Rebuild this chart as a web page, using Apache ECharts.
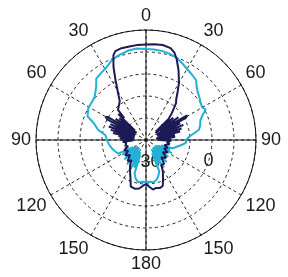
<!DOCTYPE html>
<html>
<head>
<meta charset="utf-8">
<script src="https://cdn.jsdelivr.net/npm/echarts@6/dist/echarts.min.js"></script>
<style>
  html, body { margin: 0; padding: 0; background: #fff; }
  #chart { width: 288px; height: 277px; }
</style>
</head>
<body>
<div id="chart"></div>
<script>
// angles in degrees, clockwise from top; values in dB
const navyAngles = [0, 5, 10, 15, 18, 21, 25, 30, 34, 37, 39, 41, 44, 47, 49, 51, 53, 55, 57, 59, 60, 61, 62, 64, 66, 68, 70, 72, 74, 76, 78, 80, 82, 84, 86, 88, 90, 92, 96, 100, 105, 110, 115, 120, 126, 132, 138, 143, 148, 152, 156, 160, 164, 168, 172, 176, 180,
  184, 188, 193, 198, 203, 208, 212, 216, 221, 227, 233, 239, 245, 250, 256, 262, 266, 268, 270, 272, 274, 276, 278, 280, 282, 284, 286, 288, 290, 292, 294, 296, 298, 299, 300, 301, 303, 305, 307, 309, 311, 313, 315, 317, 322, 326, 329, 333, 336, 339, 341, 345, 350, 355, 360];
const navyValues = [20.1, 20.5, 20.8, 19.8, 17.7, 13.6, 7.5, 0.0, -6.8, -10.9, -12.3, -15.7, -19.8, -24, -36, -21, -37, -18, -34, -12.3, -12.0, -14, -36, -19, -37, -17.5, -35, -19.5, -36, -21, -37, -25, -38, -25, -37, -28, -36, -28, -30.7, -28.6, -32.0, -29.3, -31.4, -28.0, -30.7, -26.6, -29.3, -24.5, -25.2, -20.5, -16.4, -11.6, -10.9, -11.6, -10.9, -13.0, -15.0,
  -13.6, -11.6, -10.9, -11.6, -17.7, -21.8, -24.5, -28.0, -25.9, -30.0, -27.3, -30.7, -28.6, -32.0, -30.7, -31.4, -29, -36, -29, -37, -27, -36, -26, -37, -22, -36, -20, -37, -18, -36, -18.4, -37, -15, -13.6, -13.2, -14.5, -36, -19.8, -37, -21.5, -35, -19.1, -24, -17.0, -15.0, -13.0, -8.2, 0.7, 9.5, 17.0, 19.1, 19.8, 19.8, 20.1, 20.1];

const cyanAngles = [0, 5, 10, 15, 20, 25, 30, 35, 40, 44, 48, 52, 56, 60, 63, 66, 70, 75, 79, 83, 86, 90, 94, 98, 103, 107, 110, 112, 115, 117, 120, 122, 125, 127, 130, 132, 135, 137, 140, 142, 145, 147, 150, 152, 155, 157, 161, 165, 170, 175, 180,
  185, 190, 195, 199, 201, 203, 205, 208, 211, 213, 216, 218, 221, 223, 226, 228, 231, 233, 236, 238, 241, 244, 250, 256, 262, 266, 270, 274, 277, 282, 288, 292, 299, 304, 310, 317, 321, 327, 332, 337, 342, 348, 354, 360];
const cyanValues = [17.0, 17.0, 16.7, 16.0, 15.0, 13.0, 10.9, 9.5, 8.2, 4.8, 2.7, 1.4, 0.0, -0.7, 0.7, -2.7, -5.5, -6.8, -8.2, -13.0, -15.7, -17.7, -17.7, -20.5, -23.9, -25.9, -34, -27.3, -36, -25.2, -37, -28.6, -36, -25.9, -38, -29.3, -37, -24.5, -38, -28.0, -37, -22.5, -36, -26.6, -35, -21.8, -19.1, -17.0, -15.7, -16.4, -16.4,
  -16.4, -15.7, -17.7, -21.1, -34, -24.5, -36, -21.8, -37, -27.3, -36, -23.9, -38, -28.0, -37, -25.2, -38, -28.6, -36, -25.9, -35, -23.9, -22.5, -21.1, -19.8, -19.1, -18.4, -17.7, -17.0, -11.6, -7.5, -2.0, 0.0, 0.0, 0.7, 4.8, 8.9, 10.2, 11.6, 14.3, 15.7, 17.0, 17.7, 17.0];

const rMin = -45, rMax = 30, rStep = 15;
const ringLabels = [-30, 0];

const toPairs = (angles, values) => angles.map((a, i) => [values[i], a]);

const center = [146, 140];
const radius = 110;
const labelFont = { fontFamily: '"Liberation Sans Narrow", "Liberation Sans", Arial, sans-serif', fontSize: 18, color: '#1a1a1a' };
const dashed = { color: '#222', width: 1, type: [3, 3] };

const chart = echarts.init(document.getElementById('chart'));

const option = {
  animation: false,
  polar: [
    { center, radius },
    { center, radius },
    { center, radius },
    { center, radius }
  ],
  angleAxis: [
    {
      polarIndex: 0, type: 'value', min: 0, max: 360, interval: 30,
      startAngle: 90, clockwise: true,
      axisLine: { lineStyle: { color: '#111', width: 1 } },
      axisTick: { show: false },
      axisLabel: Object.assign({
        margin: 5, showMaxLabel: false,
        formatter: v => String(v > 180 ? 360 - v : v)
      }, labelFont),
      splitLine: { lineStyle: dashed }
    },
    {
      polarIndex: 1, type: 'value', min: 0, max: 360, interval: 90,
      startAngle: 90, clockwise: true,
      axisLine: { show: false }, axisTick: { show: false }, axisLabel: { show: false },
      splitLine: { lineStyle: { color: '#111', width: 1, type: 'solid' } }
    },
    { polarIndex: 2, type: 'value', min: 0, max: 360, startAngle: 274, show: false },
    { polarIndex: 3, type: 'value', min: 0, max: 360, startAngle: 341, show: false }
  ],
  radiusAxis: [
    {
      polarIndex: 0, type: 'value', min: rMin, max: rMax, interval: rStep,
      axisLine: { show: false }, axisTick: { show: false }, axisLabel: { show: false },
      splitLine: { lineStyle: dashed }
    },
    { polarIndex: 1, type: 'value', min: rMin, max: rMax, interval: rStep, show: false },
    {
      polarIndex: 2, type: 'value', min: rMin, max: rMax, interval: rStep,
      axisLine: { show: false }, axisTick: { show: false }, splitLine: { show: false },
      axisLabel: Object.assign({
        margin: 0, align: 'center', verticalAlign: 'middle',
        formatter: v => v === ringLabels[0] ? String(v) : ''
      }, labelFont)
    },
    {
      polarIndex: 3, type: 'value', min: rMin, max: rMax, interval: rStep,
      axisLine: { show: false }, axisTick: { show: false }, splitLine: { show: false },
      axisLabel: Object.assign({
        margin: 0, align: 'center', verticalAlign: 'middle',
        formatter: v => v === ringLabels[1] ? String(v) : ''
      }, labelFont)
    }
  ],
  series: [
    {
      type: 'line', coordinateSystem: 'polar', polarIndex: 0,
      data: toPairs(cyanAngles, cyanValues),
      showSymbol: false, lineStyle: { color: '#22b0d6', width: 2 }, z: 3
    },
    {
      type: 'line', coordinateSystem: 'polar', polarIndex: 0,
      data: toPairs(navyAngles, navyValues),
      showSymbol: false, lineStyle: { color: '#1b1a55', width: 2 }, z: 4
    }
  ]
};

chart.setOption(option);
</script>
</body>
</html>
